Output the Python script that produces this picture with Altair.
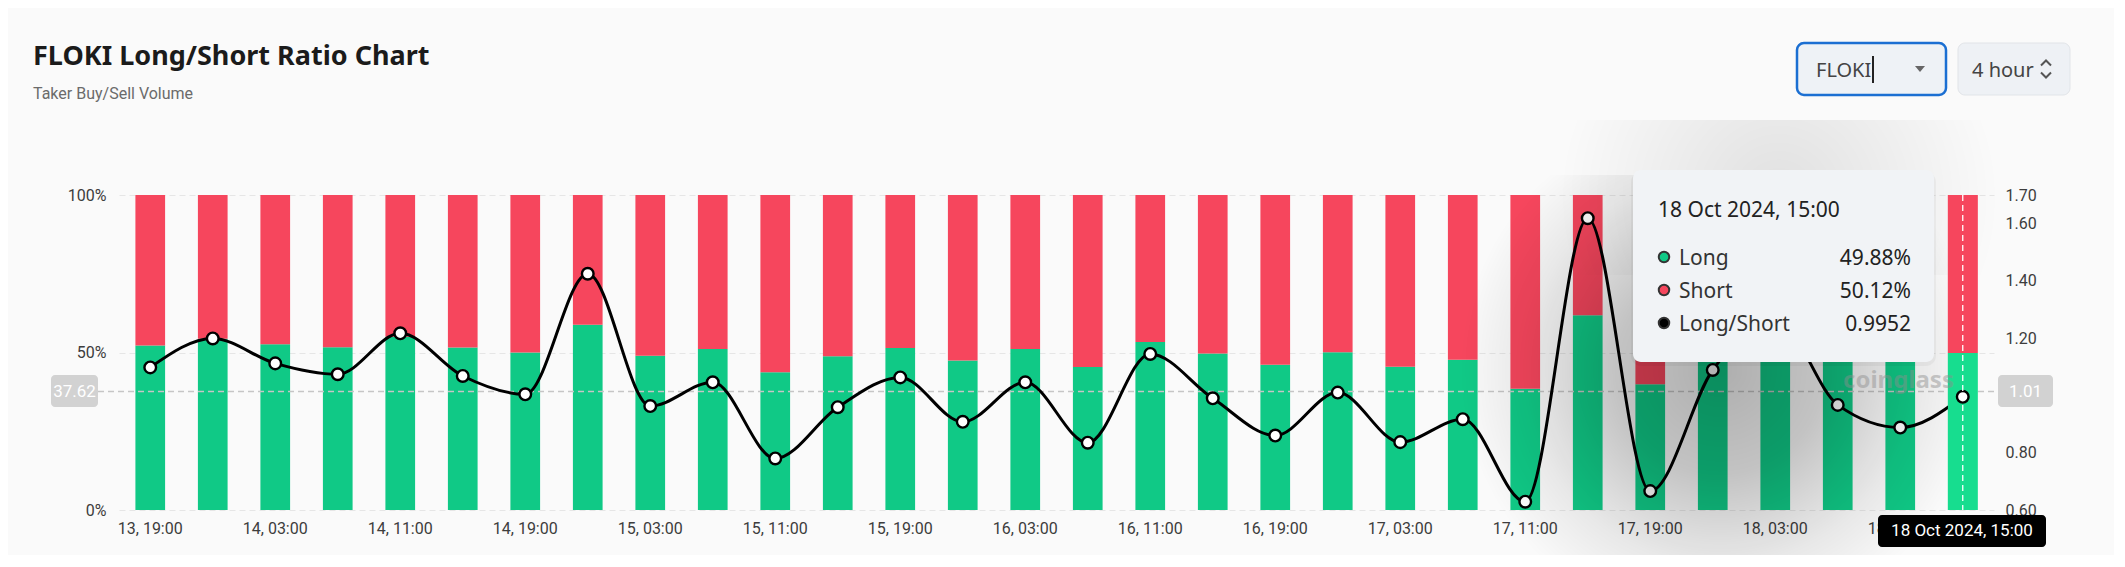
import altair as alt
import pandas as pd

# ---------------- data ----------------
times = ["13, 19:00", "13, 23:00", "14, 03:00", "14, 07:00", "14, 11:00", "14, 15:00",
         "14, 19:00", "14, 23:00", "15, 03:00", "15, 07:00", "15, 11:00", "15, 15:00",
         "15, 19:00", "15, 23:00", "16, 03:00", "16, 07:00", "16, 11:00", "16, 15:00",
         "16, 19:00", "16, 23:00", "17, 03:00", "17, 07:00", "17, 11:00", "17, 15:00",
         "17, 19:00", "17, 23:00", "18, 03:00", "18, 07:00", "18, 11:00", "18, 15:00"]
x_tick_labels = ["13, 19:00", "14, 03:00", "14, 11:00", "14, 19:00", "15, 03:00",
                 "15, 11:00", "15, 19:00", "16, 03:00", "16, 11:00", "16, 19:00",
                 "17, 03:00", "17, 11:00", "17, 19:00", "18, 03:00", "18, 11:00"]
long_pct = [52.2, 54.4, 52.6, 51.7, 55.0, 51.6, 50.0, 58.8, 49.0, 51.1,
            43.7, 48.8, 51.4, 47.5, 51.1, 45.4, 53.3, 49.7, 46.1, 50.1,
            45.5, 47.7, 38.5, 61.8, 39.9, 52.1, 56.0, 49.2, 47.0, 49.88]
ratio = [1.098, 1.199, 1.112, 1.074, 1.217, 1.068, 1.004, 1.425, 0.963, 1.046,
         0.780, 0.959, 1.063, 0.908, 1.046, 0.835, 1.145, 0.990, 0.860, 1.010,
         0.837, 0.917, 0.629, 1.619, 0.666, 1.089, 1.270, 0.967, 0.888, 0.9952]
left_ticks = [0, 50, 100]
right_ticks = [0.6, 0.8, 1.2, 1.4, 1.6, 1.7]
pct_domain = [0, 100]
ratio_domain = [0.6, 1.7]
cross_pct = 37.62
cross_pct_label = "37.62"
cross_ratio_label = "1.01"
hover_label = "18 Oct 2024, 15:00"
title_text = "FLOKI Long/Short Ratio Chart"
subtitle_text = "Taker Buy/Sell Volume"
symbol_text = "FLOKI"
interval_text = "4 hour"
watermark_text = "coinglass"
tip_labels = ["Long", "Short", "Long/Short"]

GREEN = "#10c986"
GREEN_HI = "#17dd8f"
RED = "#f6465d"

n = len(times)
last_long = long_pct[-1]
tip_values = [f"{last_long:.2f}%", f"{100 - last_long:.2f}%", f"{last_long / (100 - last_long):.4f}"]
tip_colors = [GREEN, RED, "#000000"]

rows = []
for i, (t, l) in enumerate(zip(times, long_pct)):
    hov = i == n - 1
    rows.append(dict(time=t, lo=0.0, hi=l, color=GREEN_HI if hov else GREEN, hover=hov))
    rows.append(dict(time=t, lo=l, hi=100.0, color=RED, hover=hov))
bars_df = pd.DataFrame(rows)
line_df = pd.DataFrame({"time": times, "ratio": ratio,
                        "hover": [i == n - 1 for i in range(n)]})
last_df = pd.DataFrame({"time": [times[-1]]})

W, H = 1875, 315
FONT = "Roboto"
UI_FONT = "Noto Sans"

x_enc = alt.X("time:N", sort=times,
              scale=alt.Scale(paddingInner=0.525, paddingOuter=0.2625),
              axis=alt.Axis(values=x_tick_labels, labelAngle=0, labelPadding=10,
                            title=None, grid=False, labelColor="#3d3d3d"))

bars = alt.Chart(bars_df).mark_bar(strokeWidth=0).encode(
    x=x_enc,
    y=alt.Y("lo:Q", scale=alt.Scale(domain=pct_domain, nice=False),
            axis=alt.Axis(values=left_ticks, labelExpr="datum.value + '%'",
                          title=None, labelPadding=13)),
    y2="hi:Q",
    color=alt.Color("color:N", scale=None),
)

hcross = alt.Chart(pd.DataFrame({"v": [cross_pct]})).mark_rule(
    color="#c6c6c6", strokeDash=[6, 4], strokeWidth=1.6
).encode(y=alt.Y("v:Q", title=None), x=alt.value(-21), x2=alt.value(1880))

line = alt.Chart(line_df).mark_line(interpolate="monotone", color="#000000", strokeWidth=3).encode(
    x=x_enc,
    y=alt.Y("ratio:Q", scale=alt.Scale(domain=ratio_domain, nice=False, zero=False),
            axis=alt.Axis(orient="right", values=right_ticks, format=".2f",
                          title=None, labelPadding=11)),
)
point_style = dict(shape="circle", filled=False, fill="white", fillOpacity=1, stroke="black",
                   strokeWidth=2.4, size=135, opacity=1)
points = alt.Chart(line_df).mark_point(**point_style).encode(x=x_enc, y="ratio:Q")

# hovered bar & point are drawn again above the tooltip shadow (highlight layer)
hover_bar = alt.Chart(bars_df).transform_filter("datum.hover").mark_bar(strokeWidth=0).encode(
    x=x_enc,
    y=alt.Y("lo:Q", scale=alt.Scale(domain=pct_domain, nice=False), axis=None),
    y2="hi:Q", color=alt.Color("color:N", scale=None))
hover_point = alt.Chart(line_df).transform_filter("datum.hover").mark_point(**point_style).encode(
    x=x_enc,
    y=alt.Y("ratio:Q", scale=alt.Scale(domain=ratio_domain, nice=False, zero=False), axis=None))

vcross = alt.Chart(last_df).mark_rule(color="white", strokeDash=[6, 4], strokeWidth=1.3).encode(
    x=alt.X("time:N", sort=times), y=alt.value(0), y2=alt.value(H)
)


def rect(x0, y0, x1, y1, **kw):
    return alt.Chart(pd.DataFrame({"k": [0]})).mark_rect(**kw).encode(
        x=alt.value(x0), x2=alt.value(x1), y=alt.value(y0), y2=alt.value(y1))


def text(s, x, y, **kw):
    return alt.Chart(pd.DataFrame({"t": [s]})).mark_text(**kw).encode(
        text="t:N", x=alt.value(x), y=alt.value(y))


def sym(x, y, **kw):
    return alt.Chart(pd.DataFrame({"k": [0]})).mark_point(**kw).encode(
        x=alt.value(x), y=alt.value(y))


shadow = rect(1341, -20, 1861, 370, fill=alt.RadialGradient(
    gradient="radial", x1=0.5, y1=0.5, r1=0, x2=0.5, y2=0.5, r2=0.5,
    stops=[alt.GradientStop(offset=0, color="rgba(0,0,0,0.30)"),
           alt.GradientStop(offset=0.4, color="rgba(0,0,0,0.22)"),
           alt.GradientStop(offset=0.75, color="rgba(0,0,0,0.07)"),
           alt.GradientStop(offset=1, color="rgba(0,0,0,0)")]))
top_glow = rect(1440, -75, 1880, 80, fill=alt.RadialGradient(
    gradient="radial", x1=0.5, y1=0.5, r1=0, x2=0.5, y2=0.5, r2=0.5,
    stops=[alt.GradientStop(offset=0, color="rgba(0,0,0,0.10)"),
           alt.GradientStop(offset=1, color="rgba(0,0,0,0)")]))
tight_shadow = rect(1512, -23, 1817, 171, fill="black", opacity=0.04, cornerRadius=10)

tip_box = rect(1514, -25, 1815, 167, fill="#f1f3f6", cornerRadius=8)
tip_layers = [tip_box, text(hover_label, 1539, 22, font=UI_FONT, fontSize=21, color="#222222",
                            align="left", baseline="alphabetic")]
for i, (lab, val, col) in enumerate(zip(tip_labels, tip_values, tip_colors)):
    yy = 62 + 33 * i
    tip_layers.append(sym(1545, yy, shape="circle", filled=True, fill=col, stroke="#333333",
                          strokeWidth=2, size=110, opacity=1))
    tip_layers.append(text(lab, 1560, yy + 8, font=UI_FONT, fontSize=21, color="#333333",
                           align="left", baseline="alphabetic"))
    tip_layers.append(text(val, 1792, yy + 8, font=UI_FONT, fontSize=21, color="#222222",
                           align="right", baseline="alphabetic"))

watermark = text(watermark_text, 1724, 193, font=UI_FONT, fontSize=24, fontWeight="bold",
                 color="#8d8d8d", opacity=0.45, align="left", baseline="alphabetic")

cross_boxes = [
    rect(-68, 180, -21, 212, fill="#d2d2d2", cornerRadius=4),
    text(cross_pct_label, -44.5, 202, font=FONT, fontSize=17, color="white", align="center",
         baseline="alphabetic"),
    rect(1879, 180, 1934, 212, fill="#d2d2d2", cornerRadius=4),
    text(cross_ratio_label, 1906.5, 202, font=FONT, fontSize=17, color="white", align="center",
         baseline="alphabetic"),
    rect(1759, 320, 1927, 352, fill="#000000", cornerRadius=4),
    text(hover_label, 1843, 341, font=FONT, fontSize=17, color="white", align="center",
         baseline="alphabetic"),
]

header = [
    text(title_text, -86, -130, font=UI_FONT, fontSize=27, fontWeight="bold", color="#1b1b1b",
         align="left", baseline="alphabetic"),
    text(subtitle_text, -86, -96, font=FONT, fontSize=16, color="#6b6b6b", align="left",
         baseline="alphabetic"),
    rect(1678, -152, 1827, -100, fill="#eef2f6", stroke="#1b6fd2", strokeWidth=2.5, cornerRadius=7),
    text(symbol_text, 1697, -118, font=UI_FONT, fontSize=20, color="#444444", align="left",
         baseline="alphabetic"),
    alt.Chart(pd.DataFrame({"k": [0]})).mark_rule(color="#222222", strokeWidth=2).encode(
        x=alt.value(1754), y=alt.value(-139), y2=alt.value(-112)),
    sym(1801, -126, shape="M-1,-0.6L1,-0.6L0,0.6Z", filled=True, fill="#666666", size=100,
        opacity=1, strokeWidth=0),
    rect(1839, -152, 1951, -100, fill="#eef1f5", stroke="#e1e4e8", strokeWidth=1, cornerRadius=7),
    text(interval_text, 1853, -118, font=UI_FONT, fontSize=20, color="#444444", align="left",
         baseline="alphabetic"),
    sym(1927, -132, shape="M-1,0.5L0,-0.5L1,0.5", filled=False, stroke="#555555", strokeWidth=2,
        size=100, opacity=1),
    sym(1927, -120, shape="M-1,-0.5L0,0.5L1,-0.5", filled=False, stroke="#555555", strokeWidth=2,
        size=100, opacity=1),
]

chart = alt.layer(
    alt.layer(bars, hcross),
    alt.layer(line, points),
    shadow,
    top_glow,
    hover_bar,
    hover_point,
    vcross,
    watermark, tight_shadow, *tip_layers, *cross_boxes, *header,
).resolve_scale(y="independent").properties(
    width=W, height=H, background="#fafafa",
    padding={"left": 111, "top": 187, "right": 120, "bottom": 45},
    autosize=alt.AutoSizeParams(type="none"),
).configure_axis(
    labelFont=FONT, labelFontSize=16, labelColor="#3d3d3d", domain=False, ticks=False,
    tickSize=0, gridColor="#e6e6e6", gridDash=[6, 4], gridWidth=1,
).configure_view(stroke=None)

chart.save("out.html", embed_options={"renderer": "svg", "actions": False})
